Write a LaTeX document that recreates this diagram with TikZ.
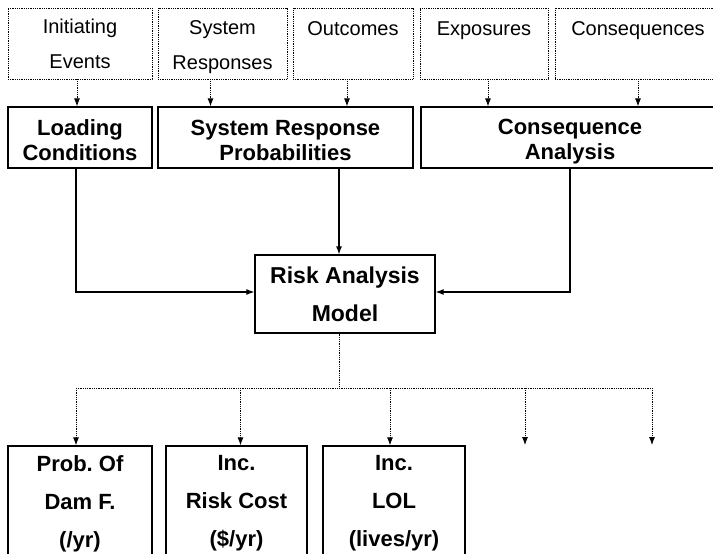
\documentclass[tikz,border=0pt]{standalone}
\usepackage{fontspec}
\setmainfont{Liberation Sans}
\usetikzlibrary{arrows.meta}
\frenchspacing

\tikzset{
  inbox/.style={draw, densely dotted, line width=0.8pt, minimum height=71pt, align=center, inner sep=0pt, font=\fontsize{20}{35}\selectfont},
  stagebox/.style={draw, line width=1.3pt, minimum height=61pt, align=center, inner sep=0pt, font=\bfseries\fontsize{22}{25}\selectfont},
  modelbox/.style={draw, line width=1.3pt, minimum width=180pt, minimum height=78pt, align=center, inner sep=0pt, font=\bfseries\fontsize{23}{38}\selectfont},
  outbox/.style={draw, line width=1.3pt, minimum height=115pt, align=center, inner sep=0pt, font=\bfseries\fontsize{22}{38}\selectfont},
  flow/.style={line width=1.1pt, -{Latex[length=8pt,width=6pt]}},
  feed/.style={densely dotted, line width=0.8pt, -{Latex[length=8pt,width=6pt]}},
}

\begin{document}
\begin{tikzpicture}[x=1pt,y=-1pt]
        \useasboundingbox (0,0) rectangle (713,554);
        % inputs
        \node[inbox, minimum width=144pt] (init) at (80,43.5) {Initiating\\Events};
        \node[inbox, minimum width=129pt] (sysresp) at (222.5,43.5) {\rule{0pt}{22pt}System\\Responses};
        \node[inbox, minimum width=120pt] (outc) at (353,43.5) {\rule{0pt}{19pt}Outcomes\\\mbox{}};
        \node[inbox, minimum width=128pt] (expo) at (484,43.5) {\rule{0pt}{19pt}Exposures\\\mbox{}};
        \node[inbox, minimum width=166pt] (conseq) at (638,43.5) {\rule{0pt}{19pt}Consequences\\\mbox{}};
        % analyses
        \node[stagebox, minimum width=144pt] (load) at (80,137.5) {\rule{0pt}{21pt}Loading\\Conditions};
        \node[stagebox, minimum width=255pt] (srp) at (285.5,137.5) {\rule{0pt}{21pt}System Response\\Probabilities};
        \node[stagebox, minimum width=298pt] (cons) at (570,137.5) {\rule{0pt}{24pt}Consequence\\Analysis};
        \node[modelbox] (model) at (345,294) {Risk Analysis\\Model};
        % results
        \node[outbox, minimum width=144pt] (pf) at (80,503.5) {Prob. Of\\Dam F.\\(/yr)};
        \node[outbox, minimum width=141pt] (cost) at (236.5,503.5) {Inc.\\Risk Cost\\(\$/yr)};
        \node[outbox, minimum width=142pt] (lol) at (394,503.5) {Inc.\\LOL\\(lives/yr)};
        \coordinate (split) at (339,388);
        \coordinate (more1) at (525,445);
        \coordinate (more2) at (652,445);

        \draw[feed] ([xshift=-3pt]init.south) -- ([xshift=-3pt]init.south |- load.north);
        \draw[feed] ([xshift=-12pt]sysresp.south) -- ([xshift=-12pt]sysresp.south |- srp.north);
        \draw[feed] ([xshift=-6pt]outc.south) -- ([xshift=-6pt]outc.south |- srp.north);
        \draw[feed] ([xshift=4pt]expo.south) -- ([xshift=4pt]expo.south |- cons.north);
        \draw[feed] (conseq.south) -- (conseq.south |- cons.north);

        \draw[flow] ([xshift=-4pt]load.south) |- ([yshift=2pt]model.west);
        \draw[flow] ([xshift=-6pt]model.north |- srp.south) -- ([xshift=-6pt]model.north);
        \draw[flow] (cons.south) |- ([yshift=2pt]model.east);

        \draw[densely dotted, line width=0.8pt] ([xshift=-6pt]model.south) -- (split);
        \draw[densely dotted, line width=0.8pt] ([xshift=-4pt]pf.north |- split) -- (more2 |- split);
        \draw[feed] ([xshift=-4pt]pf.north |- split) -- ([xshift=-4pt]pf.north);
        \draw[feed] ([xshift=4pt]cost.north |- split) -- ([xshift=4pt]cost.north);
        \draw[feed] ([xshift=-4pt]lol.north |- split) -- ([xshift=-4pt]lol.north);
        \draw[feed] (more1 |- split) -- (more1);
        \draw[feed] (more2 |- split) -- (more2);
    \end{tikzpicture}
\end{document}
